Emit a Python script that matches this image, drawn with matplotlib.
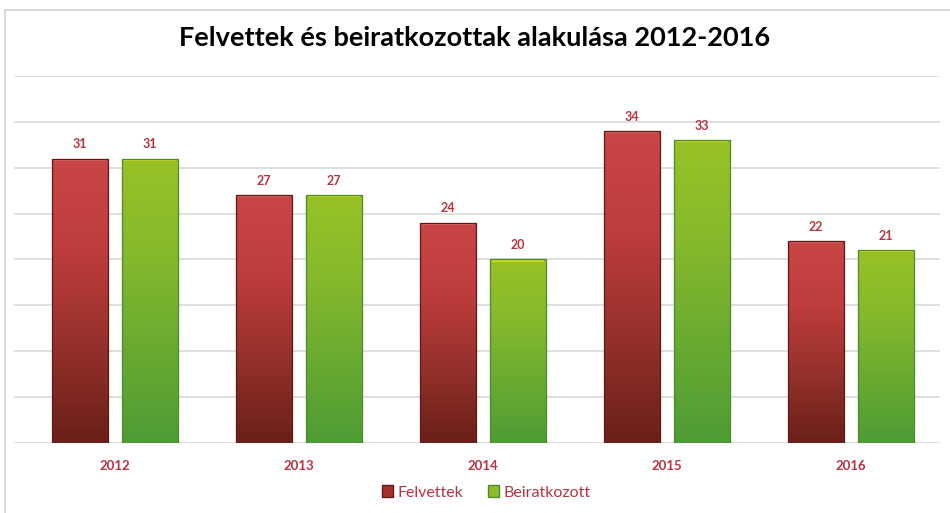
import numpy as np
import matplotlib.pyplot as plt
from matplotlib.colors import LinearSegmentedColormap
from matplotlib.patches import Rectangle, Patch

# Data
years = ['2012', '2013', '2014', '2015', '2016']
felvettek = [31, 27, 24, 34, 22]
beiratkozott = [31, 27, 20, 33, 21]

label_color = '#b83240'

plt.rcParams['font.family'] = ['Lato', 'DejaVu Sans']

fig = plt.figure(figsize=(9.5, 5.13), dpi=100)
fig.patch.set_facecolor('white')
ax = fig.add_axes([14 / 950, 0.1365, 926 / 950, 0.7155])

# Outer frame of the chart
fig.patches.append(Rectangle((5 / 950, -0.1), 1.2, 1 - 10 / 513 + 0.1, transform=fig.transFigure,
                             fill=False, edgecolor='#d0d0d0', linewidth=1.2))

x = np.arange(len(years))
width = 0.305
offset = 0.19

red_cmap = LinearSegmentedColormap.from_list('red', ['#6a2019', '#94302a', '#bd3c3d', '#c94646'])
green_cmap = LinearSegmentedColormap.from_list('green', ['#4f9c36', '#69ab30', '#86b92c', '#98c226'])

# bars are drawn as outlines on top of the gradient fill
bars_r = ax.bar(x - offset, felvettek, width, facecolor='none', edgecolor='#5a1a14', linewidth=0.9, zorder=3)
bars_g = ax.bar(x + offset, beiratkozott, width, facecolor='none', edgecolor='#4a8a2c', linewidth=0.9, zorder=3)

# Vertical gradient fill clipped to each bar
grad = np.linspace(0, 1, 256).reshape(-1, 1)
for bars, cmap, top_col in [(bars_r, red_cmap, '#dc6868'), (bars_g, green_cmap, '#cfd81e')]:
    for b in bars:
        x0, y0 = b.get_x(), b.get_y()
        w, h = b.get_width(), b.get_height()
        im = ax.imshow(grad, cmap=cmap, aspect='auto', origin='lower',
                       extent=[x0, x0 + w, y0, y0 + h], zorder=2.5)
        im.set_clip_path(b)
        ax.plot([x0 + 0.01, x0 + w - 0.01], [h - 0.12, h - 0.12], color=top_col, lw=1.5,
                solid_capstyle='butt', zorder=2.6)
        ax.text(x0 + w / 2, h + 0.9, f'{h:g}', ha='center', va='bottom',
                fontsize=9, color=label_color, fontweight='bold')

ax.set_xlim(-0.549, len(years) - 0.516)
ax.set_ylim(0, 40)
ax.set_yticks(np.arange(0, 41, 5))
ax.yaxis.grid(True, color='#d9d9d9', linewidth=1.2, zorder=0)
ax.set_axisbelow(True)
ax.tick_params(axis='y', left=False, labelleft=False)
ax.tick_params(axis='x', bottom=False, labelsize=9.5, labelcolor=label_color, pad=9)
ax.set_xticks(x)
ax.set_xticklabels(years, fontweight='bold')
for s in ax.spines.values():
    s.set_visible(False)
ax.set_facecolor('none')

fig.text(0.5, 0.925, 'Felvettek és beiratkozottak alakulása 2012-2016', ha='center', va='center',
         fontsize=19.5, fontweight='bold', color='black')

handles = [Patch(facecolor='#a8302c', edgecolor='#5e1a14'), Patch(facecolor='#8cbc2a', edgecolor='#4e8a2a')]
fig.legend(handles, ['Felvettek', 'Beiratkozott'], loc='center', bbox_to_anchor=(0.512, 0.04),
           ncol=2, frameon=False, fontsize=11.5, labelcolor=label_color,
           handlelength=0.7, handleheight=0.7, handletextpad=0.3, columnspacing=1.5)

fig.savefig('out.png', dpi=100)
